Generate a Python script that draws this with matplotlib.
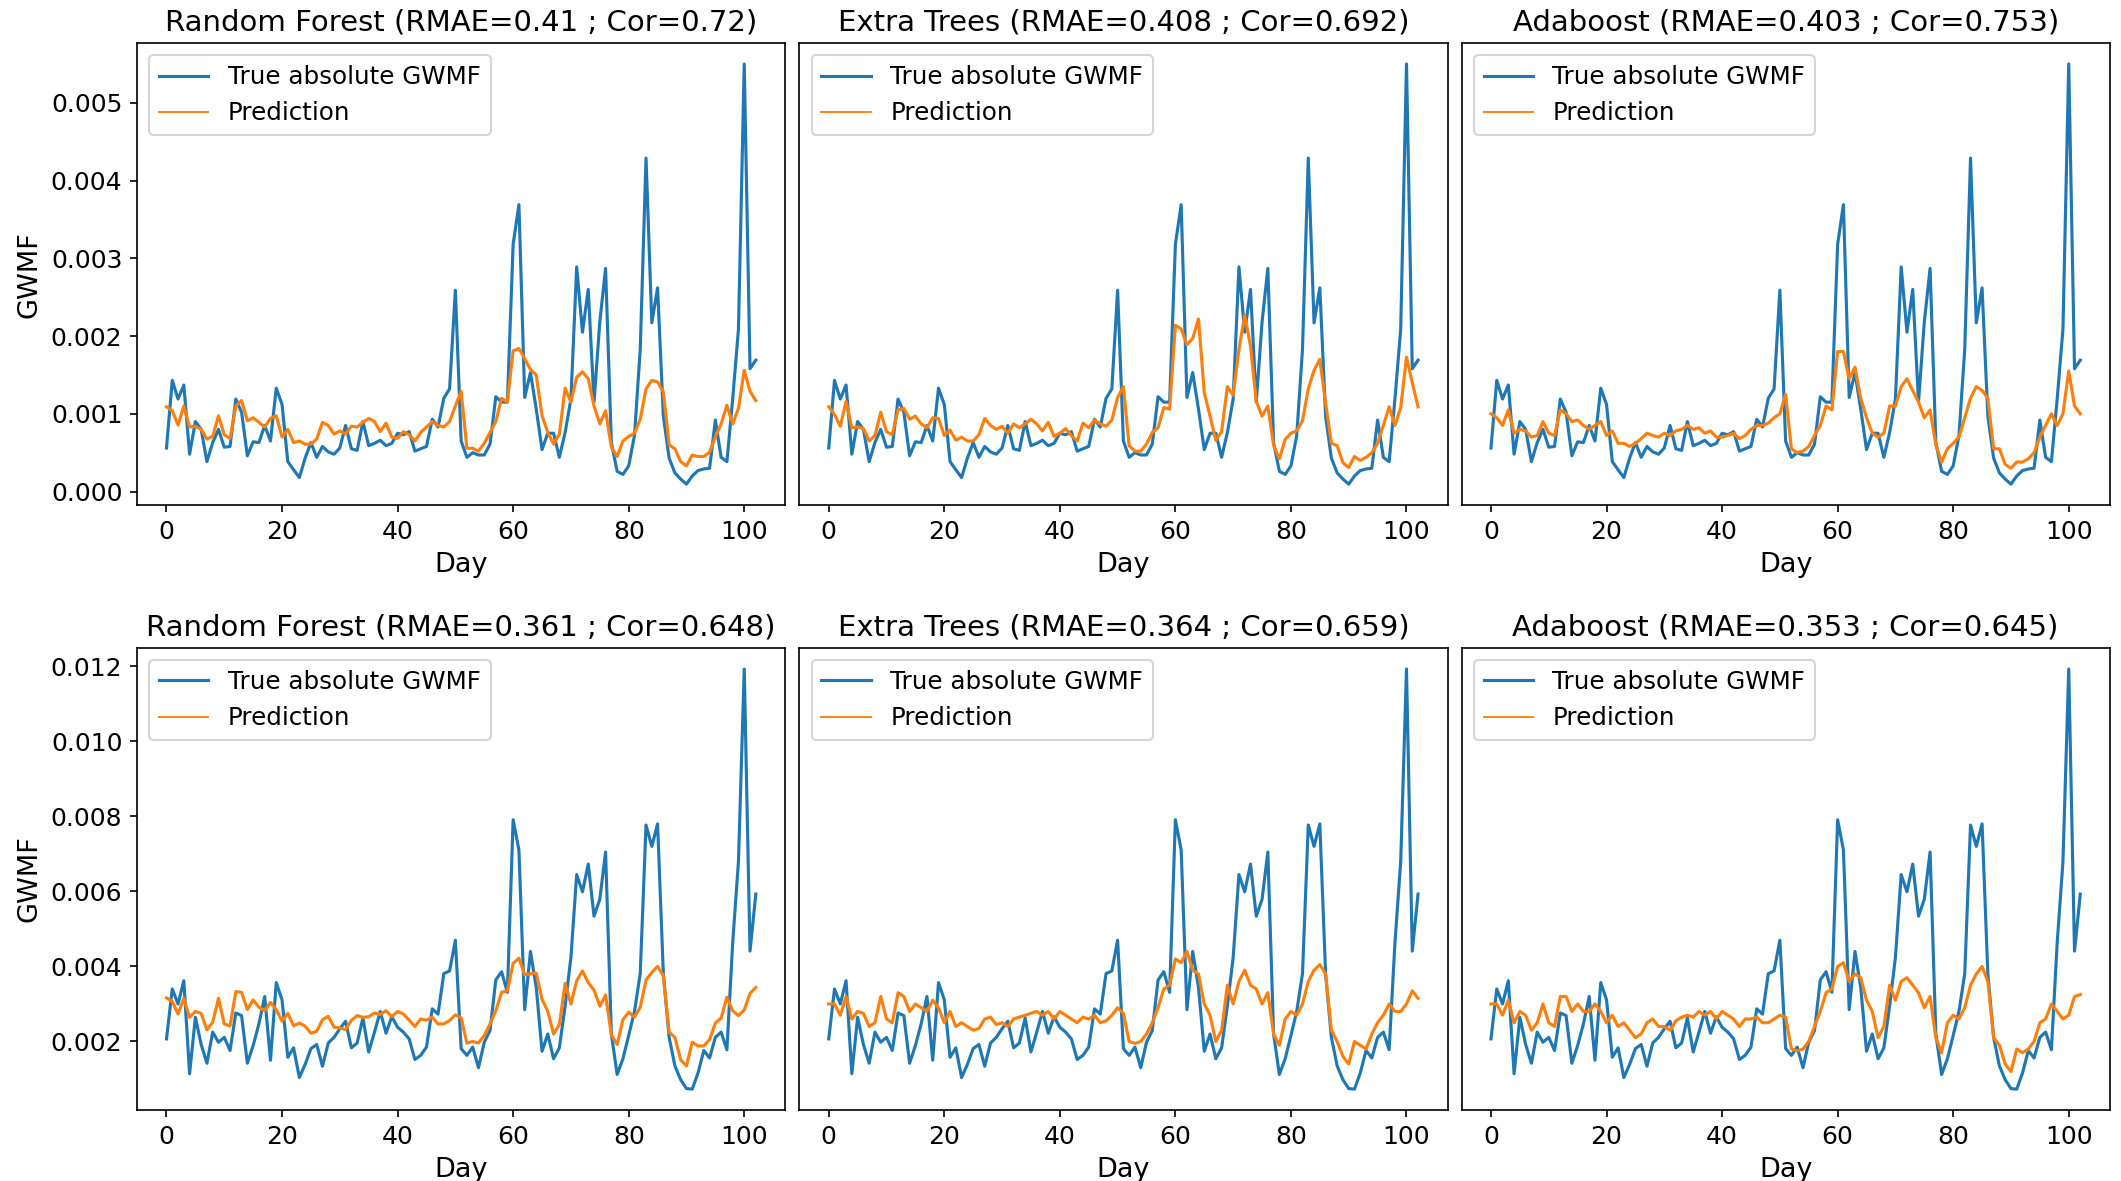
#!/usr/bin/env python3
"""
GWMF prediction vs truth for three tree ensembles, two target sets
"""

import numpy as np
import matplotlib
matplotlib.use('Agg')
import matplotlib.pyplot as plt
from matplotlib.lines import Line2D

# values below are in units of 1e-3
true_top = [0.56, 1.43, 1.19, 1.37, 0.48, 0.90, 0.80, 0.385, 0.63, 0.80, 0.57, 0.58, 1.19, 1.02, 0.46, 0.64, 0.63,
            0.85, 0.65, 1.33, 1.12, 0.385, 0.28, 0.18, 0.43, 0.63, 0.44, 0.58, 0.51, 0.48, 0.56, 0.85, 0.55, 0.53,
            0.90, 0.59, 0.62, 0.66, 0.59, 0.62, 0.75, 0.73, 0.77, 0.52, 0.55, 0.58, 0.93, 0.83, 1.20, 1.32, 2.59,
            0.65, 0.44, 0.50, 0.47, 0.47, 0.61, 1.22, 1.15, 1.15, 3.18, 3.69, 1.21, 1.53, 1.06, 0.54, 0.75, 0.75,
            0.44, 0.76, 1.19, 2.89, 2.05, 2.60, 1.15, 2.18, 2.87, 0.63, 0.26, 0.22, 0.33, 0.72, 1.83, 4.29, 2.17,
            2.62, 0.97, 0.43, 0.24, 0.16, 0.095, 0.20, 0.27, 0.29, 0.30, 0.92, 0.44, 0.385, 1.19, 2.09, 5.50, 1.58, 1.69]

rf_top = [1.09, 1.04, 0.855, 1.10, 0.83, 0.84, 0.80, 0.675, 0.71, 0.975, 0.73, 0.685, 1.10, 1.17, 0.91, 0.95, 0.89,
          0.83, 0.94, 0.975, 0.70, 0.80, 0.63, 0.65, 0.61, 0.61, 0.675, 0.89, 0.85, 0.74, 0.78, 0.74, 0.84, 0.83,
          0.89, 0.94, 0.90, 0.77, 0.88, 0.70, 0.685, 0.77, 0.73, 0.65, 0.76, 0.83, 0.90, 0.85, 0.83, 0.90, 1.10,
          1.29, 0.556, 0.556, 0.52, 0.62, 0.76, 0.90, 1.20, 1.15, 1.81, 1.84, 1.71, 1.57, 1.50, 0.975, 0.76, 0.61,
          0.74, 1.33, 1.15, 1.47, 1.54, 1.45, 1.10, 0.87, 1.04, 0.57, 0.45, 0.65, 0.71, 0.75, 0.93, 1.32, 1.43,
          1.41, 1.28, 0.60, 0.55, 0.385, 0.33, 0.47, 0.45, 0.45, 0.505, 0.70, 0.87, 1.11, 0.87, 1.07, 1.56, 1.29, 1.17]

et_top = [1.09, 0.99, 0.84, 1.16, 0.82, 0.83, 0.81, 0.65, 0.72, 1.02, 0.77, 0.73, 1.05, 1.07, 0.93, 0.97, 0.87,
          0.82, 0.95, 0.94, 0.72, 0.79, 0.66, 0.70, 0.65, 0.65, 0.73, 0.94, 0.85, 0.80, 0.84, 0.75, 0.87, 0.82,
          0.87, 0.93, 0.87, 0.78, 0.89, 0.71, 0.75, 0.81, 0.72, 0.65, 0.88, 0.82, 0.92, 0.87, 0.84, 0.92, 1.21,
          1.35, 0.59, 0.52, 0.52, 0.61, 0.76, 0.82, 1.08, 1.06, 2.14, 2.09, 1.89, 1.97, 2.22, 1.27, 0.97, 0.66,
          0.77, 1.35, 1.24, 1.83, 2.27, 1.87, 1.16, 0.97, 1.10, 0.59, 0.42, 0.67, 0.75, 0.78, 0.91, 1.32, 1.56,
          1.70, 1.14, 0.62, 0.59, 0.37, 0.31, 0.45, 0.40, 0.44, 0.50, 0.62, 0.85, 1.09, 0.85, 1.08, 1.73, 1.40, 1.09]

ada_top = [1.00, 0.95, 0.85, 1.05, 0.75, 0.80, 0.78, 0.70, 0.72, 0.90, 0.75, 0.72, 1.05, 1.00, 0.90, 0.92, 0.85,
           0.80, 0.85, 0.90, 0.72, 0.78, 0.62, 0.62, 0.58, 0.62, 0.68, 0.75, 0.72, 0.70, 0.75, 0.72, 0.78, 0.80,
           0.85, 0.80, 0.82, 0.75, 0.78, 0.70, 0.70, 0.72, 0.75, 0.68, 0.72, 0.80, 0.85, 0.85, 0.88, 0.95, 1.00,
           1.25, 0.55, 0.50, 0.52, 0.58, 0.72, 0.85, 1.10, 1.05, 1.80, 1.80, 1.45, 1.60, 1.20, 0.95, 0.75, 0.70,
           0.75, 1.10, 1.10, 1.35, 1.45, 1.30, 1.15, 0.95, 1.05, 0.60, 0.38, 0.55, 0.62, 0.70, 0.95, 1.20, 1.35,
           1.30, 1.20, 0.55, 0.55, 0.35, 0.30, 0.38, 0.38, 0.42, 0.50, 0.70, 0.85, 1.00, 0.85, 1.00, 1.55, 1.10, 1.00]

true_bot = [2.07, 3.40, 3.00, 3.62, 1.14, 2.645, 1.92, 1.42, 2.25, 1.98, 2.11, 1.76, 2.76, 2.69, 1.42, 1.89, 2.47,
            3.20, 1.50, 3.57, 3.11, 1.58, 1.83, 1.04, 1.39, 1.81, 1.92, 1.34, 1.96, 2.11, 2.34, 2.54, 1.83, 1.96,
            2.63, 1.72, 2.25, 2.80, 2.22, 2.66, 2.38, 2.25, 2.07, 1.52, 1.63, 1.85, 2.87, 2.73, 3.81, 3.88, 4.70,
            1.81, 1.63, 1.85, 1.30, 1.98, 2.29, 3.64, 3.86, 3.31, 7.91, 7.11, 2.85, 4.40, 3.44, 1.74, 2.20, 1.54,
            1.83, 2.95, 4.24, 6.45, 5.99, 6.73, 5.34, 5.79, 7.05, 2.20, 1.12, 1.54, 2.16, 2.80, 3.81, 7.77, 7.20,
            7.80, 3.80, 2.11, 1.35, 0.98, 0.745, 0.73, 1.16, 1.76, 1.56, 2.11, 2.25, 1.78, 4.63, 6.80, 11.93, 4.41, 5.93]

rf_bot = [3.16, 3.07, 2.73, 3.15, 2.645, 2.80, 2.75, 2.31, 2.51, 3.15, 2.47, 2.41, 3.33, 3.31, 2.85, 3.11, 2.91,
          2.82, 3.04, 2.85, 2.54, 2.75, 2.42, 2.49, 2.41, 2.22, 2.27, 2.58, 2.67, 2.38, 2.36, 2.32, 2.56, 2.69,
          2.645, 2.66, 2.76, 2.72, 2.82, 2.66, 2.80, 2.73, 2.57, 2.40, 2.60, 2.57, 2.645, 2.47, 2.47, 2.56, 2.71,
          2.63, 1.955, 2.00, 1.96, 2.16, 2.47, 2.82, 3.31, 3.35, 4.08, 4.22, 3.78, 3.81, 3.82, 3.13, 2.80, 2.20,
          2.45, 3.55, 3.00, 3.62, 3.88, 3.57, 3.37, 2.94, 3.24, 2.18, 1.92, 2.58, 2.78, 2.65, 2.91, 3.64, 3.84,
          4.00, 3.75, 2.25, 2.11, 1.51, 1.35, 1.98, 1.88, 1.88, 2.05, 2.49, 2.62, 3.18, 2.82, 2.69, 2.84, 3.28, 3.44]

et_bot = [3.00, 3.00, 2.70, 3.20, 2.60, 2.80, 2.75, 2.40, 2.50, 3.20, 2.60, 2.50, 3.30, 3.20, 2.80, 3.00, 2.90,
          2.80, 3.10, 2.90, 2.50, 2.80, 2.40, 2.50, 2.40, 2.30, 2.35, 2.60, 2.65, 2.45, 2.50, 2.40, 2.60, 2.65,
          2.70, 2.75, 2.80, 2.70, 2.80, 2.60, 2.80, 2.70, 2.60, 2.50, 2.65, 2.60, 2.70, 2.50, 2.55, 2.70, 2.90,
          2.75, 2.00, 1.95, 2.00, 2.20, 2.50, 2.90, 3.40, 3.50, 4.20, 4.10, 4.40, 3.90, 3.80, 3.00, 2.70, 2.00,
          2.30, 3.50, 3.00, 3.60, 3.90, 3.50, 3.40, 3.00, 3.30, 2.20, 1.90, 2.60, 2.80, 2.70, 3.00, 3.60, 3.90,
          4.05, 3.80, 2.30, 2.00, 1.60, 1.40, 2.00, 1.90, 1.80, 2.20, 2.50, 2.70, 3.00, 2.80, 2.80, 3.00, 3.35, 3.15]

ada_bot = [3.00, 3.00, 2.70, 3.10, 2.50, 2.80, 2.70, 2.30, 2.50, 3.00, 2.50, 2.40, 3.20, 3.20, 2.80, 3.00, 2.80,
           2.80, 3.00, 2.80, 2.50, 2.70, 2.40, 2.50, 2.30, 2.10, 2.20, 2.50, 2.60, 2.40, 2.40, 2.30, 2.55, 2.65,
           2.70, 2.65, 2.80, 2.70, 2.80, 2.60, 2.80, 2.70, 2.60, 2.40, 2.60, 2.60, 2.65, 2.50, 2.50, 2.60, 2.70,
           2.65, 1.80, 1.75, 1.80, 2.00, 2.40, 2.80, 3.30, 3.40, 4.00, 4.10, 3.60, 3.80, 3.70, 3.10, 2.80, 2.10,
           2.40, 3.50, 3.10, 3.60, 3.70, 3.50, 3.30, 2.90, 3.20, 2.10, 1.70, 2.50, 2.70, 2.60, 2.90, 3.50, 3.80,
           4.00, 3.60, 2.10, 1.90, 1.40, 1.20, 1.80, 1.70, 1.80, 2.00, 2.50, 2.60, 3.00, 2.80, 2.60, 2.70, 3.20, 3.25]

titles_top = ['Random Forest (RMAE=0.41 ; Cor=0.72)',
              'Extra Trees (RMAE=0.408 ; Cor=0.692)',
              'Adaboost (RMAE=0.403 ; Cor=0.753)']
titles_bot = ['Random Forest (RMAE=0.361 ; Cor=0.648)',
              'Extra Trees (RMAE=0.364 ; Cor=0.659)',
              'Adaboost (RMAE=0.353 ; Cor=0.645)']


def draw_panel(ax, truth, pred, title, first):
    days = np.arange(len(truth))
    ax.plot(days, np.array(truth) * 1e-3, color='#1f77b4', linewidth=1.5)
    ax.plot(days, np.array(pred) * 1e-3, color='#ff7f0e', linewidth=1.5)
    handles = [Line2D([], [], color='#1f77b4', linewidth=1.5),
               Line2D([], [], color='#ff7f0e', linewidth=0.9)]
    ax.legend(handles, ['True absolute GWMF', 'Prediction'], loc='upper left', fontsize=11.8)
    ax.set_title(title, fontsize=14)
    ax.set_xlabel('Day', fontsize=13)
    if first:
        ax.set_ylabel('GWMF', fontsize=13)
    else:
        # inner panels share the row's y range, no ticks on their left side
        ax.tick_params(axis='y', left=False)
    ax.tick_params(labelsize=12)


fig, axes = plt.subplots(2, 3, figsize=(2121 / 150, 1181 / 150), dpi=150, sharey='row')
fig.subplots_adjust(left=0.0646, right=0.9947, bottom=0.060, top=0.9636, wspace=0.0216, hspace=0.309)

rows = [(true_top, [rf_top, et_top, ada_top], titles_top),
        (true_bot, [rf_bot, et_bot, ada_bot], titles_bot)]
for r, (truth, preds, titles) in enumerate(rows):
    for c in range(3):
        draw_panel(axes[r, c], truth, preds[c], titles[c], c == 0)

fig.savefig('out.png', dpi=150)
print("Created: out.png")
